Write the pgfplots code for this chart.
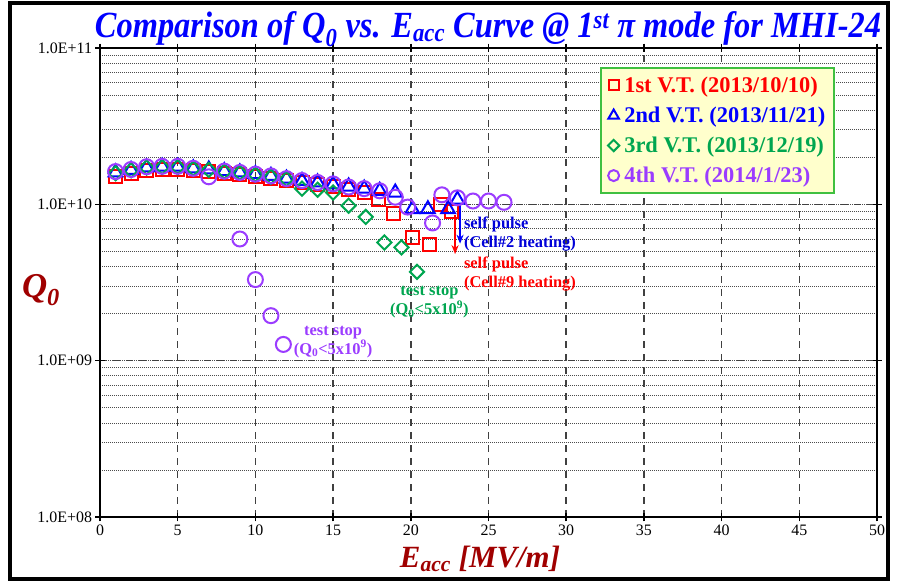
\documentclass[border=0pt]{standalone}
\usepackage{pgfplots}
\pgfplotsset{compat=1.18}
\usepackage{graphicx}
\usepackage{fontspec}
\setmainfont{Liberation Serif}
\usetikzlibrary{arrows.meta}
\definecolor{vtred}{HTML}{FF0000}
\definecolor{vtblue}{HTML}{0000FF}
\definecolor{vtgreen}{HTML}{00A650}
\definecolor{vtpurple}{HTML}{9B3CFF}
\definecolor{labred}{HTML}{A00000}
\definecolor{legfill}{HTML}{FFFFCC}
\definecolor{legframe}{HTML}{40C040}

\begin{document}
\begin{tikzpicture}
\useasboundingbox (-100bp,-67bp) rectangle (797bp,517bp);
\fill[white] (-100bp,-67bp) rectangle (797bp,517bp);
\draw[line width=3.5bp] (-90bp,-62bp) rectangle (788bp,514bp);
\begin{axis}[
    scale only axis, width=777bp, height=469bp,
    ymode=log,
    xmin=0, xmax=50, ymin=1e8, ymax=1e11,
    xtick={0,5,...,50},
    ytick={1e8,1e9,1e10,1e11},
    yticklabels={1.0E+08,1.0E+09,1.0E+10,1.0E+11},
    /pgf/number format/assume math mode=true,
    tick label style={font=\fontsize{16}{18}\selectfont},
    tick align=center,
    major tick length=9bp,
    minor tick length=0pt,
    tick style={line width=1.5bp, black},
    axis line style={line width=1.8bp},
    xmajorgrids, ymajorgrids, yminorgrids,
    major grid style={line width=1.5bp, black!75, dash pattern=on 7bp off 6bp},
    minor grid style={line width=0.7bp, black!70, dash pattern=on 1bp off 1bp},
    legend cell align=left,
    legend style={at={(axis description cs:0.6435,0.9595)}, anchor=north west,
        fill=legfill, draw=legframe, line width=2bp,
        font=\fontsize{22.5}{25}\selectfont\bfseries,
        row sep=9bp, inner xsep=7bp, inner ysep=7bp,
        /tikz/every odd column/.append style={column sep=3bp}},
]

% 1st V.T. (2013/10/10)
\addplot[forget plot, only marks, color=vtred, mark=square, mark size=6.5bp,
    mark options={line width=2bp, fill=none, solid}] coordinates {
    (1,1.50e10)(2,1.58e10)(3,1.65e10)(4,1.68e10)(5,1.68e10)(6,1.65e10)
    (7,1.62e10)(8,1.58e10)(9,1.55e10)(10,1.50e10)(11,1.46e10)(12,1.41e10)
    (13,1.37e10)(14,1.34e10)(15,1.30e10)(16,1.25e10)(17,1.19e10)
    (17.9,1.07e10)(18.9,8.7e9)(20.1,6.1e9)(21.2,5.5e9)(21.9,9.9e9)(22.6,9.0e9)};

% 2nd V.T. (2013/11/21)
\addplot[forget plot, only marks, color=vtblue, mark=triangle, mark size=8bp,
    mark options={line width=2bp, fill=none, solid}] coordinates {
    (1,1.60e10)(2,1.66e10)(3,1.72e10)(4,1.74e10)(5,1.74e10)(6,1.70e10)
    (7,1.67e10)(8,1.63e10)(9,1.60e10)(10,1.56e10)(11,1.52e10)(12,1.46e10)
    (13,1.41e10)(14,1.38e10)(15,1.34e10)(16,1.30e10)(17,1.26e10)(18,1.22e10)
    (19,1.19e10)(20.1,9.3e9)(21.1,9.3e9)(22.4,9.3e9)(23.0,1.07e10)};

% 3rd V.T. (2013/12/19)
\addplot[forget plot, only marks, color=vtgreen, mark=square, mark size=5bp,
    mark options={line width=2bp, fill=none, solid, rotate=45}] coordinates {
    (1,1.58e10)(2,1.65e10)(3,1.72e10)(4,1.73e10)(5,1.73e10)(6,1.69e10)
    (7,1.66e10)(8,1.62e10)(9,1.59e10)(10,1.55e10)(11,1.50e10)(12,1.45e10)
    (13,1.26e10)(14,1.24e10)(15,1.19e10)(16,9.8e9)(17.1,8.3e9)
    (18.3,5.7e9)(19.4,5.3e9)(20.4,3.7e9)};

% 4th V.T. (2014/1/23)
\addplot[forget plot, only marks, color=vtpurple, mark=o, mark size=7.5bp,
    mark options={line width=2bp, fill=none, solid}] coordinates {
    (1,1.62e10)(2,1.67e10)(3,1.74e10)(4,1.75e10)(5,1.75e10)(6,1.70e10)
    (7,1.50e10)(8,1.63e10)(9,1.60e10)(10,1.56e10)(11,1.52e10)(12,1.46e10)
    (13,1.42e10)(14,1.38e10)(15,1.35e10)(16,1.29e10)(17,1.26e10)(18,1.22e10)
    (19,1.11e10)(19.8,9.6e9)(21.4,7.6e9)(22.0,1.15e10)(23.0,1.10e10)
    (24.0,1.05e10)(25.0,1.05e10)(26.0,1.03e10)
    (9.0,6.0e9)(10.0,3.3e9)(11.0,1.94e9)(11.8,1.27e9)};

\addlegendimage{only marks, color=vtred, mark=square, mark size=5bp, mark options={line width=2bp, fill=none, solid}}
\addlegendimage{only marks, color=vtblue, mark=triangle, mark size=6bp, mark options={line width=2bp, fill=none, solid}}
\addlegendimage{only marks, color=vtgreen, mark=square, mark size=4bp, mark options={line width=2bp, fill=none, solid, rotate=45}}
\addlegendimage{only marks, color=vtpurple, mark=o, mark size=5.5bp, mark options={line width=2bp, fill=none, solid}}
\legend{\textcolor{vtred}{1st V.T. (2013/10/10)},
        \textcolor{vtblue}{2nd V.T. (2013/11/21)},
        \textcolor{vtgreen}{3rd V.T. (2013/12/19)},
        \textcolor{vtpurple}{4th V.T. (2014/1/23)}}

% annotations
\draw[-{Stealth[length=9bp,width=7bp]}, vtblue, line width=1.6bp]
    (axis cs:23.17,1.0e10) -- (axis cs:23.17,5.6e9);
\draw[-{Stealth[length=9bp,width=7bp]}, vtred, line width=1.6bp]
    (axis cs:22.85,8.6e9) -- (axis cs:22.85,4.8e9);
\node[anchor=west, align=left, text=vtblue!85!black, font=\fontsize{16.5}{19}\selectfont\bfseries]
    at (axis cs:23.2,6.5e9) {self pulse\\(Cell\#2 heating)};
\node[anchor=west, align=left, text=vtred, font=\fontsize{16.5}{19}\selectfont\bfseries]
    at (axis cs:23.2,3.56e9) {self pulse\\(Cell\#9 heating)};
\node[align=center, text=vtgreen, font=\fontsize{16.5}{19}\selectfont\bfseries]
    at (axis cs:21.2,2.36e9) {test stop\\(Q\textsubscript{0}<5x10\textsuperscript{9})};
\node[align=center, text=vtpurple, font=\fontsize{16.5}{19}\selectfont\bfseries]
    at (axis cs:15.0,1.32e9) {test stop\\(Q\textsubscript{0}<5x10\textsuperscript{9})};
\end{axis}

\node[text=vtblue, font=\fontsize{37}{40}\selectfont\bfseries\itshape] at (388bp,488bp)
    {\scalebox{0.88}[1]{Comparison of Q\textsubscript{0} vs. E\textsubscript{acc} Curve @ 1\textsuperscript{st} π mode for MHI-24}};
\node[text=labred, font=\fontsize{35}{37}\selectfont\bfseries\itshape] at (-59bp,227bp)
    {Q\textsubscript{0}};
\node[text=labred, font=\fontsize{31}{34}\selectfont\bfseries\itshape] at (380bp,-42bp)
    {E\textsubscript{acc} [MV/m]};
\end{tikzpicture}
\end{document}
